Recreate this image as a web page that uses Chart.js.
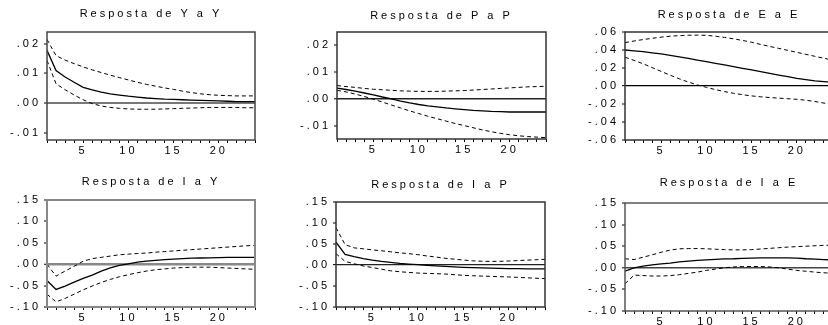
<!DOCTYPE html>
<html>
<head>
<meta charset="utf-8">
<script src="https://cdn.jsdelivr.net/npm/chart.js@4.4.1/dist/chart.umd.min.js"></script>
<style>
  html, body { margin: 0; padding: 0; background: #fff; overflow: hidden; width: 828px; height: 325px; }
  canvas { position: absolute; }
</style>
</head>
<body>
<canvas id="c1"></canvas>
<canvas id="c2"></canvas>
<canvas id="c3"></canvas>
<canvas id="c4"></canvas>
<canvas id="c5"></canvas>
<canvas id="c6"></canvas>
<script>
// --- Data ---
const periods = [1, 2, 3, 4, 5, 6, 7, 8, 9, 10, 11, 12, 13, 14, 15, 16, 17, 18, 19, 20, 21, 22, 23, 24];
const xTickLabels = [5, 10, 15, 20];

const titles = ['Resposta de Y a Y', 'Resposta de P a P', 'Resposta de E a E',
                'Resposta de I a Y', 'Resposta de I a P', 'Resposta de I a E'];

// Y a Y
const yyMid = [0.0178, 0.0110, 0.0088, 0.0070, 0.0053, 0.0044, 0.0037, 0.0031, 0.0027, 0.0023, 0.0020, 0.0017,
               0.0015, 0.0013, 0.0012, 0.0011, 0.0010, 0.0009, 0.0008, 0.0007, 0.0006, 0.0005, 0.0005, 0.0005];
const yyHi  = [0.0215, 0.0160, 0.0145, 0.0133, 0.0122, 0.0112, 0.0103, 0.0094, 0.0086, 0.0078, 0.0070, 0.0063,
               0.0057, 0.0051, 0.0046, 0.0040, 0.0035, 0.0031, 0.0028, 0.0026, 0.0025, 0.0024, 0.0024, 0.0024];
const yyLo  = [0.0144, 0.0065, 0.0045, 0.0027, 0.0011, -0.0002, -0.0010, -0.0015, -0.0018, -0.0020, -0.0021, -0.0021,
               -0.0021, -0.0020, -0.0019, -0.0018, -0.0017, -0.0016, -0.0015, -0.0015, -0.0015, -0.0015, -0.0016, -0.0016];

// P a P
const ppMid = [0.0040, 0.0035, 0.0029, 0.0022, 0.0015, 0.0007, 0.0000, -0.0008, -0.0015, -0.0021, -0.0026, -0.0030,
               -0.0034, -0.0037, -0.0040, -0.0043, -0.0045, -0.0047, -0.0048, -0.0049, -0.0049, -0.0049, -0.0049, -0.0049];
const ppHi  = [0.0050, 0.0046, 0.0043, 0.0039, 0.0036, 0.0034, 0.0032, 0.0030, 0.0029, 0.0028, 0.0028, 0.0028,
               0.0029, 0.0030, 0.0031, 0.0033, 0.0035, 0.0037, 0.0039, 0.0041, 0.0043, 0.0045, 0.0046, 0.0047];
const ppLo  = [0.0032, 0.0026, 0.0018, 0.0009, -0.0001, -0.0012, -0.0023, -0.0034, -0.0045, -0.0055, -0.0065, -0.0074,
               -0.0083, -0.0092, -0.0100, -0.0108, -0.0116, -0.0123, -0.0129, -0.0134, -0.0138, -0.0141, -0.0143, -0.0145];

// E a E
const eeMid = [0.0400, 0.0391, 0.0381, 0.0369, 0.0356, 0.0340, 0.0323, 0.0306, 0.0288, 0.0270, 0.0252, 0.0234,
               0.0215, 0.0197, 0.0178, 0.0160, 0.0141, 0.0122, 0.0104, 0.0085, 0.0071, 0.0058, 0.0048, 0.0040];
const eeHi  = [0.0482, 0.0500, 0.0516, 0.0530, 0.0543, 0.0553, 0.0560, 0.0564, 0.0565, 0.0563, 0.0553, 0.0540,
               0.0524, 0.0506, 0.0486, 0.0462, 0.0440, 0.0418, 0.0396, 0.0374, 0.0352, 0.0330, 0.0308, 0.0288];
const eeLo  = [0.0320, 0.0285, 0.0247, 0.0205, 0.0162, 0.0120, 0.0080, 0.0044, 0.0012, -0.0015, -0.0040, -0.0062,
               -0.0081, -0.0097, -0.0110, -0.0120, -0.0128, -0.0135, -0.0141, -0.0148, -0.0158, -0.0172, -0.0190, -0.0205];

// I a Y
const iyMid = [-0.038, -0.059, -0.051, -0.042, -0.033, -0.0255, -0.016, -0.0085, -0.003, 0.001, 0.0047, 0.007,
               0.009, 0.0105, 0.012, 0.013, 0.014, 0.0145, 0.015, 0.0155, 0.016, 0.016, 0.016, 0.016];
const iyHi  = [0.000, -0.028, -0.016, -0.005, 0.007, 0.013, 0.016, 0.019, 0.022, 0.0235, 0.025, 0.026,
               0.028, 0.0295, 0.031, 0.0325, 0.034, 0.0355, 0.037, 0.0385, 0.040, 0.0415, 0.043, 0.044];
const iyLo  = [-0.070, -0.088, -0.080, -0.070, -0.060, -0.051, -0.0426, -0.0356, -0.0293, -0.0245, -0.020, -0.016,
               -0.013, -0.011, -0.009, -0.008, -0.007, -0.007, -0.007, -0.008, -0.009, -0.010, -0.011, -0.012];

// I a P
const ipMid = [0.0546, 0.0253, 0.020, 0.0154, 0.0115, 0.0085, 0.0061, 0.0038, 0.0023, 0.0008, -0.0008, -0.0023,
               -0.0035, -0.0045, -0.0055, -0.0063, -0.0070, -0.0076, -0.0081, -0.0085, -0.0088, -0.0090, -0.0091, -0.0092];
const ipHi  = [0.089, 0.0484, 0.0408, 0.0385, 0.036, 0.0338, 0.0315, 0.029, 0.027, 0.0246, 0.0215, 0.019,
               0.016, 0.014, 0.0118, 0.010, 0.009, 0.0085, 0.0088, 0.0095, 0.0105, 0.0115, 0.0125, 0.0135];
const ipLo  = [0.027, 0.0085, 0.003, -0.0023, -0.006, -0.010, -0.0138, -0.016, -0.0177, -0.0192, -0.020, -0.0207,
               -0.0215, -0.023, -0.0245, -0.0255, -0.0263, -0.027, -0.0278, -0.0285, -0.0295, -0.0305, -0.0315, -0.0325];

// I a E
const ieMid = [-0.008, 0.000, 0.004, 0.007, 0.009, 0.011, 0.0135, 0.0155, 0.017, 0.0185, 0.0195, 0.0205,
               0.021, 0.022, 0.0225, 0.0228, 0.023, 0.023, 0.023, 0.0225, 0.021, 0.020, 0.019, 0.018];
const ieHi  = [0.021, 0.019, 0.0245, 0.030, 0.036, 0.041, 0.044, 0.0445, 0.0445, 0.044, 0.043, 0.042,
               0.0415, 0.0415, 0.042, 0.0435, 0.045, 0.0465, 0.048, 0.049, 0.050, 0.051, 0.052, 0.052];
const ieLo  = [-0.037, -0.017, -0.018, -0.019, -0.019, -0.018, -0.016, -0.013, -0.010, -0.006, -0.003, 0.000,
               0.002, 0.003, 0.003, 0.003, 0.002, 0.000, -0.003, -0.006, -0.008, -0.010, -0.0115, -0.013];

// y axis ticks and limits
const ticksSmall = [-0.01, 0, 0.01, 0.02];
const ticksEE = [-0.06, -0.04, -0.02, 0, 0.02, 0.04, 0.06];
const ticksI = [-0.10, -0.05, 0, 0.05, 0.10, 0.15];
const limitsYY = [-0.0125, 0.024];
const limitsPP = [-0.015, 0.025];
const limitsEE = [-0.06, 0.06];
const limitsI = [-0.10, 0.15];

// --- Layout (plot area boxes in page pixels) ---
const AXIS_W = 46, AXIS_H = 22, TITLE_H = 28, PAD_R = 6;
const panels = [
  { id: 'c1', mid: yyMid, hi: yyHi, lo: yyLo, ticks: ticksSmall, lim: limitsYY, box: [47, 32, 255, 140], titleTop: 3.5, zero: ['#777', 2], frame: ['#444', 1.5] },
  { id: 'c2', mid: ppMid, hi: ppHi, lo: ppLo, ticks: ticksSmall, lim: limitsPP, box: [337, 32, 546, 139], titleTop: 5.5, zero: ['#222', 1.5], frame: ['#333', 1.5] },
  { id: 'c3', mid: eeMid, hi: eeHi, lo: eeLo, ticks: ticksEE, lim: limitsEE, box: [625, 32, 833, 140], titleTop: 4, zero: ['#000', 1.2], frame: ['#333', 1.5] },
  { id: 'c4', mid: iyMid, hi: iyHi, lo: iyLo, ticks: ticksI, lim: limitsI, box: [47, 200, 255, 307], titleTop: 3, zero: ['#888', 2.5], frame: ['#888', 2] },
  { id: 'c5', mid: ipMid, hi: ipHi, lo: ipLo, ticks: ticksI, lim: limitsI, box: [336, 202, 545, 307], titleTop: 4.5, zero: ['#222', 1.2], frame: ['#333', 1.5] },
  { id: 'c6', mid: ieMid, hi: ieHi, lo: ieLo, ticks: ticksI, lim: limitsI, box: [625, 203, 833, 311], titleTop: 1.5, zero: ['#444', 1.5], frame: ['#555', 1.5] }
];

const FONT = { family: '"Liberation Sans", Arial, sans-serif', size: 11 };

// EViews-style spaced lettering
const spacing = {
  id: 'spacing',
  beforeUpdate(chart) { chart.ctx.letterSpacing = '3px'; },
  beforeDraw(chart) { chart.ctx.letterSpacing = '3px'; }
};

// full box around the plot area
const frame = {
  id: 'frame',
  afterDatasetsDraw(chart, args, opts) {
    const { ctx, chartArea: a } = chart;
    ctx.save();
    ctx.strokeStyle = opts.color;
    ctx.lineWidth = opts.width;
    ctx.strokeRect(a.left, a.top, a.right - a.left, a.bottom - a.top);
    ctx.restore();
  }
};

const fmtY = v => v.toFixed(2).replace('0.', '.');
const pts = arr => periods.map((x, i) => ({ x: x, y: arr[i] }));

panels.forEach((p, idx) => {
  const [L, T, R, B] = p.box;
  const cv = document.getElementById(p.id);
  cv.width = AXIS_W + (R - L) + PAD_R;
  cv.height = TITLE_H + (B - T) + AXIS_H;
  cv.style.left = (L - AXIS_W) + 'px';
  cv.style.top = (T - TITLE_H) + 'px';

  const band = { borderColor: '#000', borderWidth: 1, borderDash: [4, 3], pointRadius: 0, tension: 0, fill: false };

  new Chart(cv, {
    type: 'line',
    data: {
      datasets: [
        Object.assign({ data: pts(p.hi) }, band),
        { data: pts(p.mid), borderColor: '#000', borderWidth: 1.3, pointRadius: 0, tension: 0, fill: false },
        Object.assign({ data: pts(p.lo) }, band)
      ]
    },
    options: {
      responsive: false,
      animation: false,
      devicePixelRatio: 1,
      layout: { padding: { left: 0, right: PAD_R, top: 0, bottom: 0 } },
      scales: {
        x: {
          type: 'linear',
          min: periods[0],
          max: periods[periods.length - 1],
          afterBuildTicks: s => { s.ticks = periods.map(v => ({ value: v })); },
          afterFit: s => { s.height = AXIS_H; },
          border: { display: false },
          grid: { drawOnChartArea: false, drawTicks: true, tickLength: 3, tickColor: '#000', tickWidth: 1 },
          ticks: {
            autoSkip: false, maxRotation: 0, padding: 1, color: '#000', font: FONT,
            callback: v => xTickLabels.includes(v) ? String(v) : ''
          }
        },
        y: {
          min: p.lim[0],
          max: p.lim[1],
          afterBuildTicks: s => { s.ticks = p.ticks.map(v => ({ value: v })); },
          afterFit: s => { s.width = AXIS_W; },
          border: { display: false },
          grid: {
            drawOnChartArea: true,
            color: c => (c.tick && Math.abs(c.tick.value) < 1e-9) ? p.zero[0] : 'rgba(0,0,0,0)',
            lineWidth: c => (c.tick && Math.abs(c.tick.value) < 1e-9) ? p.zero[1] : 0,
            tickLength: 3, tickColor: '#000', tickWidth: 1
          },
          ticks: { padding: 3, color: '#000', font: FONT, callback: v => fmtY(v) }
        }
      },
      plugins: {
        legend: { display: false },
        tooltip: { enabled: false },
        title: {
          display: true,
          text: titles[idx],
          fullSize: false,
          color: '#000',
          font: { family: FONT.family, size: 11, weight: 'normal' },
          padding: { top: p.titleTop, bottom: TITLE_H - 13.2 - p.titleTop }
        },
        frame: { color: p.frame[0], width: p.frame[1] }
      }
    },
    plugins: [spacing, frame]
  });
});
</script>
</body>
</html>
